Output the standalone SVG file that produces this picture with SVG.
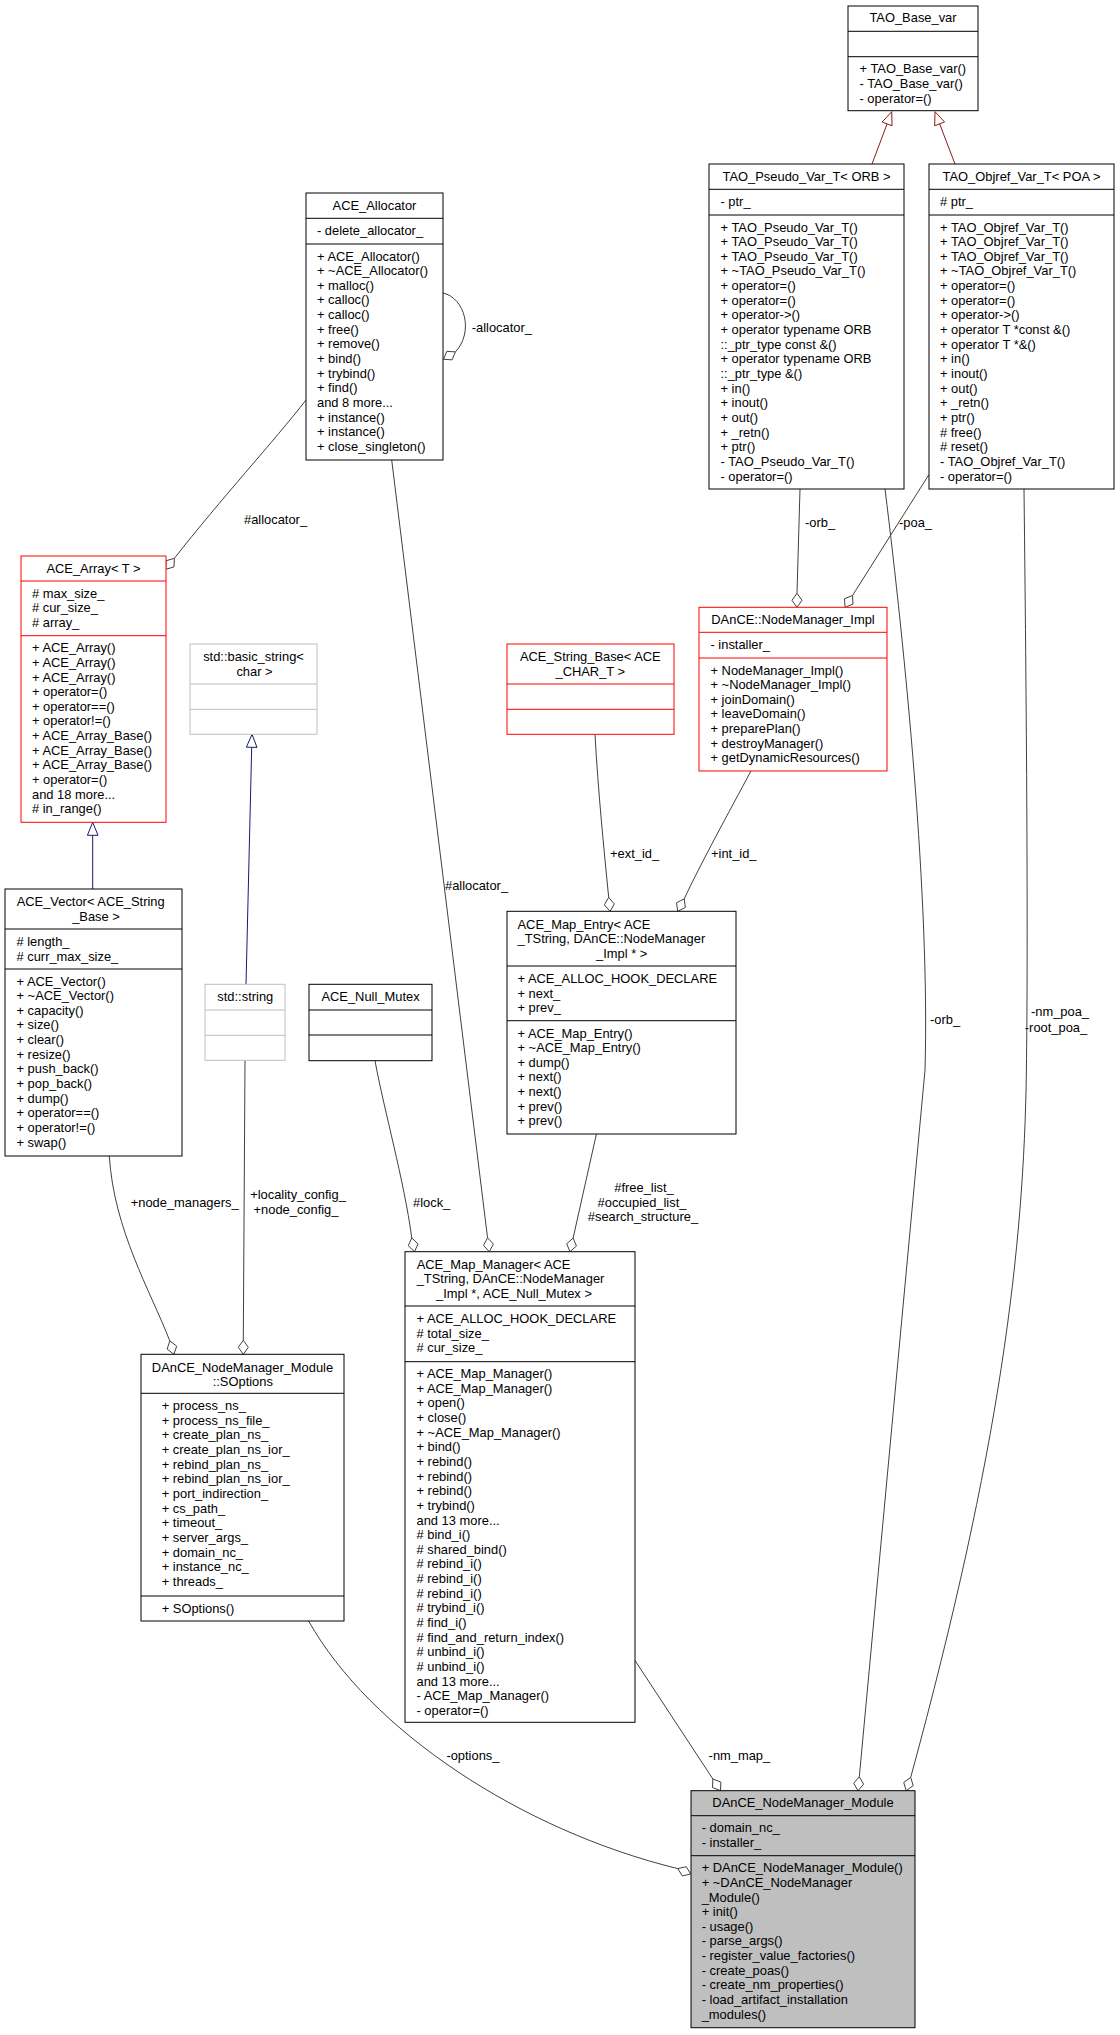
<svg xmlns="http://www.w3.org/2000/svg" width="1120" height="2035" viewBox="0 0 1120 2035">
<style>
.bx{fill:#fff;stroke:#000;stroke-width:1}
.red{fill:#fff;stroke:#f00;stroke-width:1}
.gry{fill:#fff;stroke:#bfbfbf;stroke-width:1}
.cur{fill:#bfbfbf;stroke:#000;stroke-width:1}
.ln{stroke:#000;stroke-width:1}
.lr{stroke:#f00;stroke-width:1}
.lg{stroke:#bfbfbf;stroke-width:1}
text{font-family:"Liberation Sans",Arial,Helvetica,sans-serif;font-size:12.9px;fill:#000}
.c{text-anchor:middle}
.e{fill:none;stroke:#404040;stroke-width:1}
.dm{fill:#fff;stroke:#404040;stroke-width:1}
.ib{fill:none;stroke:#191970;stroke-width:1}
.ibh{fill:#fff;stroke:#191970;stroke-width:1}
.ir{fill:none;stroke:#8b1a1a;stroke-width:1}
.irh{fill:#fff;stroke:#8b1a1a;stroke-width:1}
</style>
<rect width="1120" height="2035" fill="#fff"/>

<g id="connectors">
  <!-- inheritance -->
  <path class="ir" d="M872,164 L887.1,123.9"/>
  <polygon class="irh" points="891.7,111.7 892.06,125.77 882.14,122.03"/>
  <path class="ir" d="M955,164 L939.64,123.84"/>
  <polygon class="irh" points="935,111.7 944.59,121.95 934.69,125.73"/>
  <path class="ib" d="M92.7,889 L92.7,835.3"/>
  <polygon class="ibh" points="92.7,822.3 98,835.3 87.4,835.3"/>
  <path class="ib" d="M246,984.3 L251.7,747.3"/>
  <polygon class="ibh" points="252,734.3 257,747.4 246.4,747.2"/>

  <!-- usage -->
  <path class="e" d="M443,293 C465,298 474,332 455.4,351.9"/>
  <polygon class="dm" points="443.5,359.3 452.1,359.85 455.4,351.9 446.8,351.35"/>
  <text x="471.7" y="331.5">-allocator_</text>

  <path class="e" d="M306,400 C275,440 220,500 174.4,558.3"/>
  <polygon class="dm" points="165.7,569.3 173.97,566.93 174.41,558.34 166.14,560.71"/>
  <text x="244" y="524">#allocator_</text>

  <path class="e" d="M800,489 L797,593.3"/>
  <polygon class="dm" points="797,607.3 802,600.3 797,593.3 792,600.3"/>
  <text x="805" y="527">-orb_</text>

  <path class="e" d="M928.7,475 L852.5,595.5"/>
  <polygon class="dm" points="845,607.3 852.97,604.08 852.5,595.5 844.53,598.72"/>
  <text x="899" y="527">-poa_</text>

  <path class="e" d="M595,734.3 C598,790 604,850 608.7,897.4"/>
  <polygon class="dm" points="610,911.3 614.33,903.89 608.7,897.4 604.37,904.81"/>
  <text x="610" y="858">+ext_id_</text>

  <path class="e" d="M751,771 C730,810 700,865 684.2,898.9"/>
  <polygon class="dm" points="677.7,911.3 685.38,907.42 684.2,898.9 676.52,902.79"/>
  <text x="711" y="858">+int_id_</text>

  <path class="e" d="M391.7,460 L487.56,1237.81"/>
  <polygon class="dm" points="489.3,1251.7 493.39,1244.14 487.56,1237.81 483.47,1245.38"/>
  <text x="445" y="890">#allocator_</text>

  <path class="e" d="M375,1060.7 C384,1110 404,1180 411.78,1237.97"/>
  <polygon class="dm" points="414.5,1251.7 418.05,1243.87 411.78,1237.97 408.24,1245.81"/>
  <text x="413" y="1207">#lock_</text>

  <path class="e" d="M596.4,1134 L573.11,1238.05"/>
  <polygon class="dm" points="570,1251.7 576.43,1245.99 573.11,1238.05 566.68,1243.77"/>
  <text class="c" x="644" y="1192">#free_list_</text>
  <text class="c" x="642" y="1207">#occupied_list_</text>
  <text class="c" x="643" y="1221">#search_structure_</text>

  <path class="e" d="M109.3,1156 C114,1230 150,1290 169.8,1340.94"/>
  <polygon class="dm" points="174,1354.3 176.67,1346.1 169.8,1340.94 167.13,1349.1"/>
  <text x="130.7" y="1207">+node_managers_</text>

  <path class="e" d="M245,1060.3 L243.3,1340.3"/>
  <polygon class="dm" points="243.3,1354.3 248.3,1347.3 243.3,1340.3 238.3,1347.3"/>
  <text class="c" x="298" y="1199">+locality_config_</text>
  <text class="c" x="296" y="1214">+node_config_</text>

  <path class="e" d="M308.6,1621 C370,1730 520,1830 677.78,1868.61"/>
  <polygon class="dm" points="690.7,1874 682.3,1875.9 677.78,1868.61 686.2,1866.7"/>
  <text x="446.4" y="1760">-options_</text>

  <path class="e" d="M634.3,1659.4 L712.86,1778.97"/>
  <polygon class="dm" points="720.5,1790.7 720.87,1782.11 712.86,1778.97 712.49,1787.57"/>
  <text x="708.6" y="1760">-nm_map_</text>

  <path class="e" d="M885,489 C905,650 930,900 925,1070 L859.3,1776.76"/>
  <polygon class="dm" points="858,1790.7 863.63,1784.2 859.3,1776.76 853.67,1783.27"/>
  <text x="930" y="1024">-orb_</text>

  <path class="e" d="M1024,489 C1027,750 1028,950 1026.4,1070 C1024,1250 1000,1450 910.7,1777.4"/>
  <polygon class="dm" points="906.2,1790.7 913.19,1785.67 910.7,1777.4 903.72,1782.44"/>
  <text class="c" x="1060" y="1016">-nm_poa_</text>
  <text class="c" x="1056" y="1032">-root_poa_</text>
</g>

<g id="TAO_Base_var">
  <rect class="bx" x="848" y="6" width="130" height="104.7"/>
  <line class="ln" x1="848" y1="31.3" x2="978" y2="31.3"/>
  <line class="ln" x1="848" y1="56.7" x2="978" y2="56.7"/>
  <text class="c" x="913" y="22">TAO_Base_var</text>
  <text x="859.5" y="73.2">+ TAO_Base_var()</text>
  <text x="859.5" y="87.85">- TAO_Base_var()</text>
  <text x="859.5" y="102.5">- operator=()</text>
</g>

<g id="TAO_Pseudo_Var_T">
  <rect class="bx" x="709" y="164" width="195" height="325"/>
  <line class="ln" x1="709" y1="189.3" x2="904" y2="189.3"/>
  <line class="ln" x1="709" y1="215" x2="904" y2="215"/>
  <text class="c" x="806.5" y="180.7">TAO_Pseudo_Var_T&lt; ORB &gt;</text>
  <text x="720.5" y="205.5">- ptr_</text>
  <text x="720.5" y="231.5">+ TAO_Pseudo_Var_T()</text>
  <text x="720.5" y="246.15">+ TAO_Pseudo_Var_T()</text>
  <text x="720.5" y="260.8">+ TAO_Pseudo_Var_T()</text>
  <text x="720.5" y="275.45">+ ~TAO_Pseudo_Var_T()</text>
  <text x="720.5" y="290.1">+ operator=()</text>
  <text x="720.5" y="304.75">+ operator=()</text>
  <text x="720.5" y="319.4">+ operator-&gt;()</text>
  <text x="720.5" y="334.05">+ operator typename ORB</text>
  <text x="720.5" y="348.7">::_ptr_type const &amp;()</text>
  <text x="720.5" y="363.35">+ operator typename ORB</text>
  <text x="720.5" y="378">::_ptr_type &amp;()</text>
  <text x="720.5" y="392.65">+ in()</text>
  <text x="720.5" y="407.3">+ inout()</text>
  <text x="720.5" y="421.95">+ out()</text>
  <text x="720.5" y="436.6">+ _retn()</text>
  <text x="720.5" y="451.25">+ ptr()</text>
  <text x="720.5" y="465.9">- TAO_Pseudo_Var_T()</text>
  <text x="720.5" y="480.55">- operator=()</text>
</g>

<g id="TAO_Objref_Var_T">
  <rect class="bx" x="929" y="164" width="185" height="325"/>
  <line class="ln" x1="929" y1="189.3" x2="1114" y2="189.3"/>
  <line class="ln" x1="929" y1="215" x2="1114" y2="215"/>
  <text class="c" x="1021.5" y="180.7">TAO_Objref_Var_T&lt; POA &gt;</text>
  <text x="940" y="205.5"># ptr_</text>
  <text x="940" y="231.5">+ TAO_Objref_Var_T()</text>
  <text x="940" y="246.15">+ TAO_Objref_Var_T()</text>
  <text x="940" y="260.8">+ TAO_Objref_Var_T()</text>
  <text x="940" y="275.45">+ ~TAO_Objref_Var_T()</text>
  <text x="940" y="290.1">+ operator=()</text>
  <text x="940" y="304.75">+ operator=()</text>
  <text x="940" y="319.4">+ operator-&gt;()</text>
  <text x="940" y="334.05">+ operator T *const &amp;()</text>
  <text x="940" y="348.7">+ operator T *&amp;()</text>
  <text x="940" y="363.35">+ in()</text>
  <text x="940" y="378">+ inout()</text>
  <text x="940" y="392.65">+ out()</text>
  <text x="940" y="407.3">+ _retn()</text>
  <text x="940" y="421.95">+ ptr()</text>
  <text x="940" y="436.6"># free()</text>
  <text x="940" y="451.25"># reset()</text>
  <text x="940" y="465.9">- TAO_Objref_Var_T()</text>
  <text x="940" y="480.55">- operator=()</text>
</g>

<g id="ACE_Allocator">
  <rect class="bx" x="306" y="193" width="137" height="267"/>
  <line class="ln" x1="306" y1="218.3" x2="443" y2="218.3"/>
  <line class="ln" x1="306" y1="244" x2="443" y2="244"/>
  <text class="c" x="374.5" y="210">ACE_Allocator</text>
  <text x="317" y="234.5">- delete_allocator_</text>
  <text x="317" y="260.5">+ ACE_Allocator()</text>
  <text x="317" y="275.15">+ ~ACE_Allocator()</text>
  <text x="317" y="289.8">+ malloc()</text>
  <text x="317" y="304.45">+ calloc()</text>
  <text x="317" y="319.1">+ calloc()</text>
  <text x="317" y="333.75">+ free()</text>
  <text x="317" y="348.4">+ remove()</text>
  <text x="317" y="363.05">+ bind()</text>
  <text x="317" y="377.7">+ trybind()</text>
  <text x="317" y="392.35">+ find()</text>
  <text x="317" y="407">and 8 more...</text>
  <text x="317" y="421.65">+ instance()</text>
  <text x="317" y="436.3">+ instance()</text>
  <text x="317" y="450.95">+ close_singleton()</text>
</g>

<g id="ACE_Array">
  <rect class="red" x="21" y="556" width="145" height="266.3"/>
  <line class="lr" x1="21" y1="581" x2="166" y2="581"/>
  <line class="lr" x1="21" y1="635.7" x2="166" y2="635.7"/>
  <text class="c" x="93.5" y="572.5">ACE_Array&lt; T &gt;</text>
  <text x="32" y="597.5"># max_size_</text>
  <text x="32" y="612.15"># cur_size_</text>
  <text x="32" y="626.8"># array_</text>
  <text x="32" y="652.2">+ ACE_Array()</text>
  <text x="32" y="666.85">+ ACE_Array()</text>
  <text x="32" y="681.5">+ ACE_Array()</text>
  <text x="32" y="696.15">+ operator=()</text>
  <text x="32" y="710.8">+ operator==()</text>
  <text x="32" y="725.45">+ operator!=()</text>
  <text x="32" y="740.1">+ ACE_Array_Base()</text>
  <text x="32" y="754.75">+ ACE_Array_Base()</text>
  <text x="32" y="769.4">+ ACE_Array_Base()</text>
  <text x="32" y="784.05">+ operator=()</text>
  <text x="32" y="798.7">and 18 more...</text>
  <text x="32" y="813.35"># in_range()</text>
</g>

<g id="std_basic_string">
  <rect class="gry" x="190" y="644" width="127" height="90.3"/>
  <line class="lg" x1="190" y1="684" x2="317" y2="684"/>
  <line class="lg" x1="190" y1="709.3" x2="317" y2="709.3"/>
  <text class="c" x="253.5" y="661">std::basic_string&lt;</text>
  <text class="c" x="254.5" y="675.5">char &gt;</text>
</g>

<g id="ACE_String_Base">
  <rect class="red" x="507" y="644" width="167" height="90.3"/>
  <line class="lr" x1="507" y1="684" x2="674" y2="684"/>
  <line class="lr" x1="507" y1="709.3" x2="674" y2="709.3"/>
  <text class="c" x="590.3" y="661">ACE_String_Base&lt; ACE</text>
  <text class="c" x="590.3" y="675.5">_CHAR_T &gt;</text>
</g>

<g id="NodeManager_Impl">
  <rect class="red" x="699" y="607.3" width="188" height="163.7"/>
  <line class="lr" x1="699" y1="632.3" x2="887" y2="632.3"/>
  <line class="lr" x1="699" y1="658" x2="887" y2="658"/>
  <text class="c" x="793" y="623.5">DAnCE::NodeManager_Impl</text>
  <text x="710.5" y="648.8">- installer_</text>
  <text x="710.5" y="674.5">+ NodeManager_Impl()</text>
  <text x="710.5" y="689.15">+ ~NodeManager_Impl()</text>
  <text x="710.5" y="703.8">+ joinDomain()</text>
  <text x="710.5" y="718.45">+ leaveDomain()</text>
  <text x="710.5" y="733.1">+ preparePlan()</text>
  <text x="710.5" y="747.75">+ destroyManager()</text>
  <text x="710.5" y="762.4">+ getDynamicResources()</text>
</g>

<g id="ACE_Vector">
  <rect class="bx" x="5" y="889" width="177" height="267"/>
  <line class="ln" x1="5" y1="929" x2="182" y2="929"/>
  <line class="ln" x1="5" y1="969" x2="182" y2="969"/>
  <text x="16.7" y="906.3">ACE_Vector&lt; ACE_String</text>
  <text class="c" x="96" y="920.5">_Base &gt;</text>
  <text x="16.5" y="946"># length_</text>
  <text x="16.5" y="960.6"># curr_max_size_</text>
  <text x="16.5" y="985.5">+ ACE_Vector()</text>
  <text x="16.5" y="1000.15">+ ~ACE_Vector()</text>
  <text x="16.5" y="1014.8">+ capacity()</text>
  <text x="16.5" y="1029.45">+ size()</text>
  <text x="16.5" y="1044.1">+ clear()</text>
  <text x="16.5" y="1058.75">+ resize()</text>
  <text x="16.5" y="1073.4">+ push_back()</text>
  <text x="16.5" y="1088.05">+ pop_back()</text>
  <text x="16.5" y="1102.7">+ dump()</text>
  <text x="16.5" y="1117.35">+ operator==()</text>
  <text x="16.5" y="1132">+ operator!=()</text>
  <text x="16.5" y="1146.65">+ swap()</text>
</g>

<g id="std_string">
  <rect class="gry" x="205" y="984.3" width="80" height="76"/>
  <line class="lg" x1="205" y1="1010" x2="285" y2="1010"/>
  <line class="lg" x1="205" y1="1035.3" x2="285" y2="1035.3"/>
  <text class="c" x="245.3" y="1001.3">std::string</text>
</g>

<g id="ACE_Null_Mutex">
  <rect class="bx" x="309" y="984.3" width="123" height="76.4"/>
  <line class="ln" x1="309" y1="1010" x2="432" y2="1010"/>
  <line class="ln" x1="309" y1="1035" x2="432" y2="1035"/>
  <text class="c" x="370.5" y="1001.3">ACE_Null_Mutex</text>
</g>

<g id="ACE_Map_Entry">
  <rect class="bx" x="507" y="911.3" width="229" height="222.7"/>
  <line class="ln" x1="507" y1="966" x2="736" y2="966"/>
  <line class="ln" x1="507" y1="1020.7" x2="736" y2="1020.7"/>
  <text x="517.5" y="928.5">ACE_Map_Entry&lt; ACE</text>
  <text x="517.5" y="943">_TString, DAnCE::NodeManager</text>
  <text class="c" x="621.7" y="957.5">_Impl * &gt;</text>
  <text x="517.5" y="983">+ ACE_ALLOC_HOOK_DECLARE</text>
  <text x="517.5" y="997.65">+ next_</text>
  <text x="517.5" y="1012.3">+ prev_</text>
  <text x="517.5" y="1037.5">+ ACE_Map_Entry()</text>
  <text x="517.5" y="1052.15">+ ~ACE_Map_Entry()</text>
  <text x="517.5" y="1066.8">+ dump()</text>
  <text x="517.5" y="1081.45">+ next()</text>
  <text x="517.5" y="1096.1">+ next()</text>
  <text x="517.5" y="1110.75">+ prev()</text>
  <text x="517.5" y="1125.4">+ prev()</text>
</g>

<g id="ACE_Map_Manager">
  <rect class="bx" x="405" y="1251.7" width="230" height="470.6"/>
  <line class="ln" x1="405" y1="1306" x2="635" y2="1306"/>
  <line class="ln" x1="405" y1="1361.7" x2="635" y2="1361.7"/>
  <text x="416.7" y="1268.5">ACE_Map_Manager&lt; ACE</text>
  <text x="416.7" y="1283">_TString, DAnCE::NodeManager</text>
  <text class="c" x="514" y="1297.5">_Impl *, ACE_Null_Mutex &gt;</text>
  <text x="416.5" y="1323">+ ACE_ALLOC_HOOK_DECLARE</text>
  <text x="416.5" y="1337.65"># total_size_</text>
  <text x="416.5" y="1352.3"># cur_size_</text>
  <text x="416.5" y="1378">+ ACE_Map_Manager()</text>
  <text x="416.5" y="1392.65">+ ACE_Map_Manager()</text>
  <text x="416.5" y="1407.3">+ open()</text>
  <text x="416.5" y="1421.95">+ close()</text>
  <text x="416.5" y="1436.6">+ ~ACE_Map_Manager()</text>
  <text x="416.5" y="1451.25">+ bind()</text>
  <text x="416.5" y="1465.9">+ rebind()</text>
  <text x="416.5" y="1480.55">+ rebind()</text>
  <text x="416.5" y="1495.2">+ rebind()</text>
  <text x="416.5" y="1509.85">+ trybind()</text>
  <text x="416.5" y="1524.5">and 13 more...</text>
  <text x="416.5" y="1539.15"># bind_i()</text>
  <text x="416.5" y="1553.8"># shared_bind()</text>
  <text x="416.5" y="1568.45"># rebind_i()</text>
  <text x="416.5" y="1583.1"># rebind_i()</text>
  <text x="416.5" y="1597.75"># rebind_i()</text>
  <text x="416.5" y="1612.4"># trybind_i()</text>
  <text x="416.5" y="1627.05"># find_i()</text>
  <text x="416.5" y="1641.7"># find_and_return_index()</text>
  <text x="416.5" y="1656.35"># unbind_i()</text>
  <text x="416.5" y="1671"># unbind_i()</text>
  <text x="416.5" y="1685.65">and 13 more...</text>
  <text x="416.5" y="1700.3">- ACE_Map_Manager()</text>
  <text x="416.5" y="1714.95">- operator=()</text>
</g>

<g id="SOptions">
  <rect class="bx" x="141" y="1354.3" width="203" height="266.7"/>
  <line class="ln" x1="141" y1="1393.3" x2="344" y2="1393.3"/>
  <line class="ln" x1="141" y1="1596" x2="344" y2="1596"/>
  <text class="c" x="242.5" y="1371.5">DAnCE_NodeManager_Module</text>
  <text class="c" x="242.8" y="1385.8">::SOptions</text>
  <text x="161.7" y="1410">+ process_ns_</text>
  <text x="161.7" y="1424.65">+ process_ns_file_</text>
  <text x="161.7" y="1439.3">+ create_plan_ns_</text>
  <text x="161.7" y="1453.95">+ create_plan_ns_ior_</text>
  <text x="161.7" y="1468.6">+ rebind_plan_ns_</text>
  <text x="161.7" y="1483.25">+ rebind_plan_ns_ior_</text>
  <text x="161.7" y="1497.9">+ port_indirection_</text>
  <text x="161.7" y="1512.55">+ cs_path_</text>
  <text x="161.7" y="1527.2">+ timeout_</text>
  <text x="161.7" y="1541.85">+ server_args_</text>
  <text x="161.7" y="1556.5">+ domain_nc_</text>
  <text x="161.7" y="1571.15">+ instance_nc_</text>
  <text x="161.7" y="1585.8">+ threads_</text>
  <text x="161.7" y="1612.5">+ SOptions()</text>
</g>

<g id="DAnCE_NodeManager_Module">
  <rect class="cur" x="691" y="1790.7" width="224" height="237"/>
  <line class="ln" x1="691" y1="1815.7" x2="915" y2="1815.7"/>
  <line class="ln" x1="691" y1="1855.7" x2="915" y2="1855.7"/>
  <text class="c" x="803" y="1807">DAnCE_NodeManager_Module</text>
  <text x="701.7" y="1832.2">- domain_nc_</text>
  <text x="701.7" y="1846.85">- installer_</text>
  <text x="701.7" y="1872.2">+ DAnCE_NodeManager_Module()</text>
  <text x="701.7" y="1886.85">+ ~DAnCE_NodeManager</text>
  <text x="701.7" y="1901.5">_Module()</text>
  <text x="701.7" y="1916.15">+ init()</text>
  <text x="701.7" y="1930.8">- usage()</text>
  <text x="701.7" y="1945.45">- parse_args()</text>
  <text x="701.7" y="1960.1">- register_value_factories()</text>
  <text x="701.7" y="1974.75">- create_poas()</text>
  <text x="701.7" y="1989.4">- create_nm_properties()</text>
  <text x="701.7" y="2004.05">- load_artifact_installation</text>
  <text x="701.7" y="2018.7">_modules()</text>
</g>
</svg>
